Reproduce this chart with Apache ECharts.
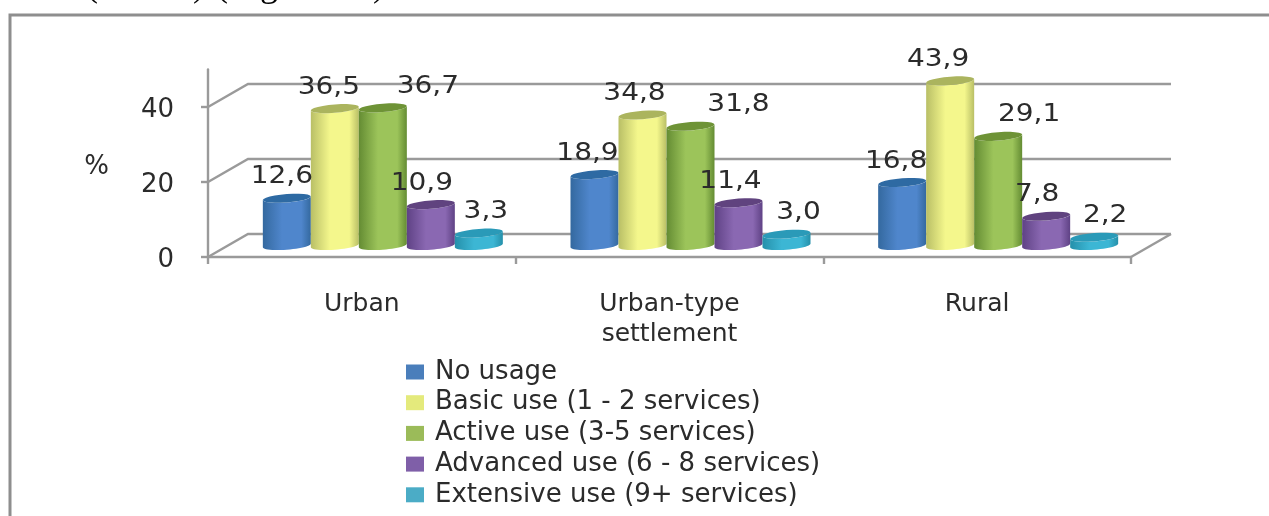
<!DOCTYPE html>
<html>
<head>
<meta charset="utf-8">
<style>html,body{margin:0;padding:0;background:#fff}#c{width:1269px;height:516px}</style>
<script src="https://cdn.jsdelivr.net/npm/echarts@6/dist/echarts.min.js"></script>
</head>
<body>
<div id="c"></div>
<script>
const categories = ['Urban', 'Urban-type\nsettlement', 'Rural'];
const seriesNames = ['No usage', 'Basic use (1 - 2 services)', 'Active use (3-5 services)', 'Advanced use (6 - 8 services)', 'Extensive use (9+ services)'];
const noUsage = [12.6, 18.9, 16.8];
const basicUse = [36.5, 34.8, 43.9];
const activeUse = [36.7, 31.8, 29.1];
const advancedUse = [10.9, 11.4, 7.8];
const extensiveUse = [3.3, 3.0, 2.2];
const yTicks = [0, 20, 40];

const allValues = [noUsage, basicUse, activeUse, advancedUse, extensiveUse];

// styling
const FONT = '"DejaVu Sans", sans-serif';
const TEXT = '#2b2b2b';
const GRID = '#9a9a9a';
const legendColors = ['#4a7ebb', '#e4ea7c', '#9bbb59', '#7f5fa8', '#4bacc6'];
const edgeColors = ['#34699f', '#b9bf66', '#648c33', '#5f4285', '#2590aa'];
const midColors = ['#4f86cc', '#f4f78c', '#9cc45a', '#8a68b2', '#3cb6d4'];
const capColors = ['#2e6aa3', '#abb45e', '#6e9336', '#60437f', '#2a9ab8'];
const depthX = 40, depthY = 23, barStep = 48, barHalf = 24, ellY = 4.2, tilt = 1.8, shiftX = 1;
// manual label shifts of the original chart (series by category), in pixels
const labelDx = [[-5, -7, -6], [-6, -8, -12], [45, 48, 31], [-9, -8, -9], [7, 12, 11]];
const labelDy = -33;

function ellipsePoints(cx, cy, from, to) {
  const pts = [];
  for (let k = 0; k <= 24; k++) {
    const a = from + (to - from) * k / 24;
    const ex = barHalf * Math.cos(a), ey = ellY * Math.sin(a);
    pts.push([cx + ex, cy + ey - tilt * ex / barHalf]);
  }
  return pts;
}

function barRenderer(si) {
  return function (params, api) {
    const cat = api.value(0), v = api.value(1);
    const base = api.coord([cat, 0]);
    const top = api.coord([cat, v]);
    const cx = base[0] + depthX / 2 + shiftX + (si - 2) * barStep;
    const by = base[1] - depthY / 2;
    const ty = top[1] - depthY / 2;
    const body = ellipsePoints(cx, by, 0, Math.PI).concat(ellipsePoints(cx, ty, Math.PI, 0));
    const grad = new echarts.graphic.LinearGradient(0, 0, 1, 0, [
      { offset: 0, color: edgeColors[si] },
      { offset: 0.4, color: midColors[si] },
      { offset: 0.8, color: midColors[si] },
      { offset: 1, color: edgeColors[si] }
    ]);
    return {
      type: 'group',
      children: [
        { type: 'polygon', shape: { points: body }, style: { fill: grad }, z2: si * 2 },
        { type: 'polygon', shape: { points: ellipsePoints(cx, ty, 0, Math.PI * 2) }, style: { fill: capColors[si] }, z2: si * 2 + 1 },
        {
          type: 'text', z2: 100, x: cx + labelDx[si][cat], y: top[1] + labelDy,
          scaleX: 1.12,
          style: { text: v.toFixed(1).replace('.', ','), fill: TEXT, font: '25px ' + FONT, align: 'center', verticalAlign: 'middle' }
        }
      ]
    };
  };
}

function wallRenderer(params, api) {
  const cs = params.coordSys;
  const y = api.coord([0, api.value(0)])[1];
  const x0 = cs.x, x1 = cs.x + cs.width;
  const kids = [{
    type: 'polyline',
    shape: { points: [[x0, y], [x0 + depthX, y - depthY], [x1 + depthX, y - depthY]] },
    style: { fill: 'none', stroke: GRID, lineWidth: 2.4 }
  }];
  if (api.value(0) === 0) {
    kids.push({
      type: 'line',
      shape: { x1: x1, y1: y, x2: x1 + depthX, y2: y - depthY },
      style: { stroke: GRID, lineWidth: 2.4 }
    });
  }
  return { type: 'group', children: kids };
}

const series = [{
  type: 'custom', name: 'walls', coordinateSystem: 'cartesian2d', clip: false, silent: true, z: 1,
  data: yTicks.map(v => [v]), encode: { y: 0 }, renderItem: wallRenderer
}].concat(allValues.map((vals, si) => ({
  type: 'custom', name: seriesNames[si], coordinateSystem: 'cartesian2d', clip: false, z: 2,
  itemStyle: { color: legendColors[si] },
  data: vals.map((v, c) => [c, v]), encode: { x: 0, y: 1 },
  renderItem: barRenderer(si)
})));

function cropped(ch, x) {
  return { type: 'text', x: x, y: 5, z: 10, silent: true,
    style: { text: ch, font: '36px "Liberation Serif", serif', fill: '#000', align: 'center', verticalAlign: 'bottom' } };
}

const chart = echarts.init(document.getElementById('c'), null, { renderer: 'canvas', width: 1269, height: 516 });
chart.setOption({
  animation: false,
  backgroundColor: '#ffffff',
  textStyle: { fontFamily: FONT },
  grid: { left: 208, top: 69.5, width: 923, height: 187.5, containLabel: false },
  xAxis: {
    type: 'category', data: categories, boundaryGap: true,
    axisLine: { lineStyle: { color: GRID, width: 2.4 } },
    axisTick: { show: true, length: 7, lineStyle: { color: GRID, width: 2.4 } },
    axisLabel: { color: TEXT, fontSize: 25, lineHeight: 30, margin: 32, fontFamily: FONT },
    splitLine: { show: false }
  },
  yAxis: {
    type: 'value', min: 0, max: 50, interval: 10,
    name: '%', nameLocation: 'middle', nameRotate: 0, nameGap: 99,
    nameTextStyle: { color: TEXT, fontSize: 26, fontFamily: FONT, verticalAlign: 'top', lineHeight: 8 },
    axisLine: { show: true, lineStyle: { color: GRID, width: 2.4 } },
    axisTick: { show: true, length: 7, lineStyle: { color: GRID, width: 2.4 }, customValues: yTicks },
    axisLabel: { color: TEXT, fontSize: 26, margin: 34, fontFamily: FONT, customValues: yTicks, verticalAlign: 'top', lineHeight: 6 },
    splitLine: { show: false }
  },
  legend: {
    orient: 'vertical', left: 406, top: 359, height: 157, padding: 0,
    data: seriesNames, icon: 'rect', itemWidth: 18, itemHeight: 15, itemGap: 4.7,
    selectedMode: false,
    textStyle: { color: TEXT, fontSize: 26, fontFamily: FONT, padding: [0, 0, 0, 6], lineHeight: 26 }
  },
  graphic: {
    elements: [
      { type: 'polyline', silent: true, z: 0,
        shape: { points: [[10, 516], [10, 15], [1269, 15]] },
        style: { fill: 'none', stroke: '#8e8e8e', lineWidth: 3 } },
      cropped('(', 92), cropped(')', 199), cropped('(', 222), cropped('g', 269), cropped(')', 379)
    ]
  },
  series: series
});
</script>
</body>
</html>
